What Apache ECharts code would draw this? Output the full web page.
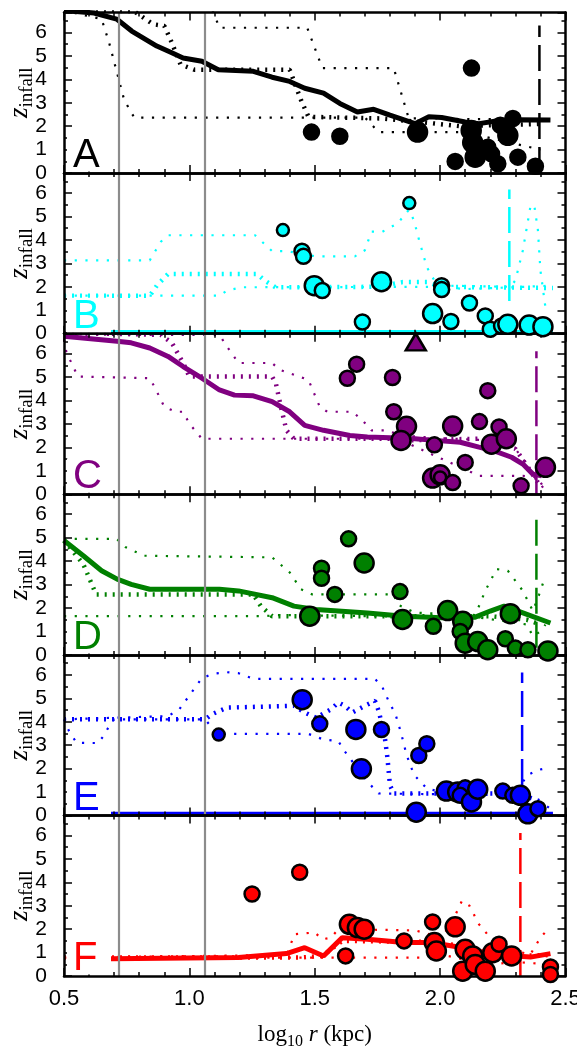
<!DOCTYPE html>
<html><head><meta charset="utf-8">
<script src="https://cdn.jsdelivr.net/npm/echarts@6/dist/echarts.min.js"></script>
<style>html,body{margin:0;padding:0;background:#fff}#c{width:577px;height:1047px}</style>
</head><body><div id="c"></div>
<script>
// ---------- DATA ----------
const panelNames = ['A','B','C','D','E','F'];
const xTicks = [0.5,1.0,1.5,2.0,2.5];
const greyLines = [0.716, 1.056];

const A_median = [[0.5,6.93],[0.62,6.83],[0.71,6.57],[0.77,6.06],[0.87,5.42],[0.93,5.13],[0.975,4.91],[1.05,4.77],[1.115,4.41],[1.255,4.34],[1.33,4.09],[1.40,3.91],[1.46,3.62],[1.535,3.41],[1.60,2.97],[1.67,2.61],[1.735,2.72],[1.80,2.47],[1.90,2.11],[1.955,2.40],[2.006,2.37],[2.10,2.18],[2.155,2.11],[2.23,2.23],[2.30,2.28],[2.44,2.26]];
const A_upper = [[0.5,7.0],[1.09,7.0],[1.12,6.2],[1.47,6.2],[1.53,4.48],[1.815,4.48],[1.875,2.33],[1.95,2.35],[2.1,2.3],[2.25,2.3],[2.4,2.3]];
const A_mean = [[0.5,7.0],[0.78,6.9],[0.855,6.35],[0.90,6.28],[0.93,5.56],[0.965,4.63],[1.02,4.41],[1.40,4.41],[1.415,3.98],[1.445,3.12],[1.475,2.40],[1.77,2.33],[1.90,2.2],[2.08,2.0],[2.4,2.1]];
const A_lower = [[0.5,6.93],[0.65,6.57],[0.68,5.56],[0.71,4.34],[0.74,3.12],[0.78,2.37],[1.70,2.37],[1.755,1.75],[2.09,1.75],[2.2,1.5],[2.4,1.0]];
const A_points = [[1.487,1.75,1],[1.60,1.57,1],[1.91,1.75,2],[2.125,4.48,1],[2.06,0.5,1],[2.124,1.82,2],[2.13,1.3,2],[2.14,0.68,2],[2.19,1.1,1],[2.205,0.82,1],[2.23,0.4,1],[2.24,2.04,1],[2.27,1.61,2],[2.29,2.33,1],[2.31,0.68,1],[2.38,0.29,1]];
const A_vline = [2.396, 0, 6.3];

const B_median = [[0.687,0.05],[2.45,0.05]];
const B_upper = [[0.5,3.13],[0.842,3.13],[0.886,3.92],[0.915,4.2],[1.262,4.2],[1.29,3.92],[1.33,3.52],[1.39,3.52],[1.505,3.30],[1.66,3.30],[1.70,3.56],[1.726,4.35],[1.77,4.35],[1.83,4.7],[1.875,5.28],[1.895,4.85],[1.918,3.92],[1.947,2.84],[1.977,2.27],[2.02,2.05],[2.28,2.0],[2.30,2.27],[2.33,3.56],[2.36,5.42],[2.375,5.5],[2.39,4.42],[2.40,2.7],[2.42,1.12]];
const B_mean = [[0.5,1.62],[0.842,1.62],[0.87,2.05],[0.915,2.55],[1.27,2.55],[1.30,2.27],[1.343,1.98],[1.75,2.0],[1.85,2.2],[1.95,2.2],[2.0,2.0],[2.45,1.95]];
const B_lower = [[0.5,1.62],[1.12,1.62],[1.15,1.84],[1.21,1.98],[2.0,2.0],[2.1,1.9],[2.45,2.05]];
const B_points = [[1.373,4.42,0],[1.449,3.52,1],[1.455,3.30,1],[1.498,2.05,2],[1.53,1.84,1],[1.69,0.50,1],[1.766,2.22,2],[1.877,5.57,0],[1.97,0.86,2],[2.006,2.05,1],[2.006,1.88,1],[2.043,0.52,1],[2.117,1.31,1],[2.18,0.76,1],[2.20,0.19,1],[2.245,0.33,1],[2.27,0.40,2],[2.355,0.37,2],[2.41,0.30,2]];
const B_vline = [2.276, 1.4, 6.15];

const C_median = [[0.5,6.74],[0.712,6.53],[0.768,6.46],[0.842,6.24],[0.915,5.88],[0.975,5.45],[1.05,4.95],[1.12,4.45],[1.18,4.23],[1.255,4.2],[1.33,3.95],[1.40,3.52],[1.46,2.94],[1.535,2.73],[1.64,2.51],[1.71,2.44],[1.80,2.41],[1.90,2.37],[1.977,2.30],[2.08,2.22],[2.155,2.01],[2.21,1.87],[2.285,1.58],[2.33,1.29],[2.37,0.86],[2.405,0.79]];
const C_upper = [[0.5,6.8],[1.12,6.8],[1.145,6.38],[1.196,5.6],[1.33,5.6],[1.36,5.31],[1.475,4.88],[1.52,3.73],[1.55,3.52],[1.65,3.52],[1.69,3.16],[1.726,2.73],[1.785,2.73],[1.85,2.5],[2.0,2.4],[2.2,2.3],[2.30,1.94],[2.345,1.29],[2.375,0.72],[2.405,0.36],[2.43,0.0]];
const C_mean = [[0.5,6.9],[0.886,6.8],[0.93,6.46],[0.975,5.6],[1.0,5.02],[1.33,5.02],[1.345,4.73],[1.365,3.73],[1.387,2.73],[1.417,2.37],[1.80,2.37],[1.855,2.30],[2.15,2.37],[2.30,1.94],[2.36,1.0],[2.39,0.5]];
const C_lower = [[0.5,6.6],[0.51,6.03],[0.53,5.6],[0.555,5.02],[0.842,4.95],[0.864,4.52],[0.90,3.73],[0.945,3.52],[0.975,3.52],[1.0,3.01],[1.05,2.37],[1.80,2.37],[1.815,2.73],[1.84,2.5],[1.89,2.08],[2.155,0.79],[2.33,0.79],[2.39,0.72],[2.42,0.14]];
const C_points = [[1.63,4.95,1],[1.667,5.55,1],[1.81,4.98,1],[1.815,3.52,1],[1.866,2.90,2],[1.844,2.30,2],[1.977,2.11,1],[1.97,0.69,2],[2.0,0.83,2],[2.0,0.72,0],[2.05,0.50,1],[2.05,2.91,2],[2.10,1.36,1],[2.157,3.10,1],[2.19,4.42,1],[2.235,2.87,1],[2.205,2.14,2],[2.264,2.37,2],[2.323,0.36,1],[2.42,1.15,2]];
const C_triangle = [[1.903,6.5]];
const C_vline = [2.384, 0, 6.1];

const D_median = [[0.5,4.88],[0.577,4.23],[0.65,3.59],[0.712,3.23],[0.768,3.01],[0.842,2.80],[1.12,2.80],[1.196,2.73],[1.33,2.44],[1.417,2.08],[1.505,1.94],[1.71,1.79],[1.855,1.65],[2.006,1.58],[2.14,1.61],[2.20,1.87],[2.255,2.08],[2.33,1.79],[2.44,1.36]];
const D_upper = [[0.5,4.95],[0.71,4.95],[0.746,4.59],[0.82,4.23],[1.33,4.16],[1.40,3.52],[1.445,2.80],[1.49,2.58],[1.815,2.58],[1.83,2.15],[1.9,1.8],[2.14,1.7],[2.18,2.73],[2.225,3.66],[2.27,3.59],[2.33,2.73],[2.37,1.87],[2.395,2.58],[2.42,3.37]];
const D_mean = [[0.5,4.88],[0.577,3.87],[0.628,2.58],[1.255,2.58],[1.285,2.08],[1.33,1.65],[2.2,1.65],[2.345,1.5],[2.40,1.3]];
const D_lower = [[0.5,1.65],[1.30,1.65],[1.35,1.7],[2.15,1.6],[2.345,1.3],[2.37,0.8],[2.40,1.0],[2.42,1.29]];
const D_points = [[1.48,1.65,2],[1.527,3.70,1],[1.527,3.27,1],[1.58,2.58,1],[1.635,4.95,1],[1.697,3.92,2],[1.84,2.70,1],[1.85,1.51,2],[1.973,1.22,1],[2.03,1.89,2],[2.09,1.43,2],[2.08,1.0,1],[2.10,0.5,2],[2.15,0.57,2],[2.19,0.22,2],[2.26,0.69,1],[2.28,1.76,2],[2.30,0.29,1],[2.35,0.22,1],[2.43,0.17,2]];
const D_vline = [2.384, 0.3, 6.1];

const E_median = [[0.687,0.05],[2.45,0.05]];
const E_upper = [[0.5,4.1],[0.915,4.24],[0.96,4.53],[1.004,5.18],[1.048,5.83],[1.09,6.04],[1.15,6.11],[1.196,6.07],[1.255,5.83],[1.74,5.83],[1.77,5.47],[1.80,4.75],[1.82,4.39],[1.844,3.53],[1.866,2.59],[1.896,1.73],[1.947,1.15],[2.006,1.0],[2.30,1.0],[2.35,1.73],[2.39,1.94],[2.42,2.01]];
const E_mean = [[0.5,4.1],[1.063,4.1],[1.09,4.32],[1.15,4.6],[1.417,4.68],[1.46,4.39],[1.505,4.17],[1.565,4.53],[1.594,4.82],[1.62,4.68],[1.65,4.39],[1.70,4.68],[1.74,4.89],[1.755,4.46],[1.778,3.45],[1.79,2.45],[1.80,1.29],[1.815,0.94],[2.30,0.94],[2.36,0.75],[2.405,0.58]];
const E_lower = [[0.5,4.1],[0.52,3.6],[0.55,3.1],[0.635,3.09],[0.657,3.38],[0.68,3.81],[0.70,4.1],[1.063,4.1],[1.085,3.81],[1.115,3.48],[1.475,3.48],[1.535,3.24],[1.594,3.17],[1.62,2.73],[1.66,2.16],[1.71,1.44],[1.755,0.94],[2.33,0.86],[2.37,0.65],[2.42,0.43],[2.44,0.29]];
const E_points = [[1.117,3.45,0],[1.45,4.94,2],[1.52,3.91,1],[1.664,3.67,2],[1.686,1.99,2],[1.766,3.67,1],[1.915,2.56,1],[1.947,3.06,1],[1.905,0.14,2],[2.025,1.04,2],[2.07,1.0,2],[2.10,1.18,1],[2.08,0.86,1],[2.125,0.58,2],[2.15,1.12,2],[2.25,1.04,1],[2.29,0.86,1],[2.32,0.86,2],[2.35,0.07,2],[2.39,0.29,1]];
const E_vline = [2.327, 1.3, 6.1];

const F_median = [[0.687,0.74],[1.196,0.79],[1.387,0.96],[1.46,1.21],[1.535,0.86],[1.61,1.64],[1.71,1.57],[1.855,1.43],[1.93,1.43],[2.006,1.36],[2.09,1.21],[2.18,1.0],[2.30,0.86],[2.36,0.81],[2.44,0.96]];
const F_upper = [[0.5,0.79],[1.387,0.9],[1.42,1.79],[1.50,1.86],[1.53,1.57],[1.565,1.64],[1.594,2.0],[1.90,1.95],[2.006,1.64],[2.05,2.36],[2.087,3.21],[2.117,3.0],[2.155,2.21],[2.20,1.64],[2.30,1.07],[2.36,0.93],[2.40,1.64],[2.43,2.0]];
const F_mean = [[0.5,0.79],[1.44,0.79],[1.53,0.86],[1.61,1.5],[2.0,1.45],[2.2,1.0],[2.3,0.86],[2.44,0.9]];
const F_lower = [[0.5,0.79],[1.61,0.79],[1.93,0.79],[2.0,0.93],[2.1,0.7],[2.2,0.5],[2.3,0.6],[2.44,0.5]];
const F_points = [[1.25,3.5,1],[1.44,4.43,1],[1.623,0.86,1],[1.638,2.21,2],[1.67,2.07,2],[1.697,2.0,2],[1.856,1.5,1],[1.97,2.31,1],[1.977,1.43,2],[1.985,1.07,2],[2.06,2.1,2],[2.10,1.14,2],[2.09,0.21,2],[2.13,0.86,2],[2.14,0.5,2],[2.18,0.21,2],[2.21,1.0,2],[2.235,1.36,1],[2.285,0.86,2],[2.44,0.39,1],[2.44,0.07,1]];
const F_vline = [2.32, 0, 6.1];

// ---------- BUILD ----------
const panels = [
  {name:'A', color:'#000000', median:A_median, upper:A_upper, mean:A_mean, lower:A_lower, pts:A_points, vline:A_vline},
  {name:'B', color:'#00FFFF', median:B_median, upper:B_upper, mean:B_mean, lower:B_lower, pts:B_points, vline:B_vline},
  {name:'C', color:'#800080', median:C_median, upper:C_upper, mean:C_mean, lower:C_lower, pts:C_points, vline:C_vline, tri:C_triangle},
  {name:'D', color:'#008000', median:D_median, upper:D_upper, mean:D_mean, lower:D_lower, pts:D_points, vline:D_vline},
  {name:'E', color:'#0000FF', median:E_median, upper:E_upper, mean:E_mean, lower:E_lower, pts:E_points, vline:E_vline},
  {name:'F', color:'#FF0000', median:F_median, upper:F_upper, mean:F_mean, lower:F_lower, pts:F_points, vline:F_vline}
];
const YMAX = 6.85, TOP0 = 12.5, PH = 160.6, LEFT = 64, W = 501.5;
const symSizes = [12, 15, 19];
const grids = [], xAxes = [], yAxes = [], series = [], graphics = [];
const sans = '"Liberation Sans", Arial, sans-serif';
const serif = '"Liberation Serif", "DejaVu Serif", serif';

panels.forEach((p, i) => {
  const top = TOP0 + i * PH;
  grids.push({left: LEFT, top: top, width: W, height: PH, show: false, containLabel:false, outerBoundsMode:'none'});
  const last = i === panels.length - 1;
  const xBase = {type:'value', gridIndex:i, min:0.5, max:2.5, interval:0.5, z:5,
    axisLine:{show:true, onZero:false, lineStyle:{color:'#000', width:2.5}},
    axisTick:{show:true, inside:true, length:8, lineStyle:{color:'#000', width:1.5}},
    minorTick:{show:true, splitNumber:5, length:4, lineStyle:{color:'#000', width:1.5}},
    splitLine:{show:false}, minorSplitLine:{show:false}};
  xAxes.push(Object.assign({}, xBase, {position:'bottom',
    axisLabel:{show:last, color:'#000', fontSize:22, fontFamily:sans, margin:12, formatter: v => xTicks.includes(v) ? v.toFixed(1) : ''},
    name: last ? '{n|log}{sub|10}{n| }{i|r}{n| (kpc)}' : '', nameLocation:'middle', nameGap:44,
    nameTextStyle:{rich:{n:{fontSize:23, fontFamily:serif, color:'#000', lineHeight:30, verticalAlign:'middle'},
      sub:{fontSize:16, fontFamily:serif, color:'#000', lineHeight:30, verticalAlign:'bottom'},
      i:{fontSize:23, fontFamily:serif, fontStyle:'italic', color:'#000', lineHeight:30, verticalAlign:'middle'}}}}));
  xAxes.push(Object.assign({}, xBase, {position:'top', axisLabel:{show:false}}));
  const yBase = {type:'value', gridIndex:i, min:0, max:YMAX, interval:1, z:5,
    axisLine:{show:true, onZero:false, lineStyle:{color:'#000', width:2.5}},
    axisTick:{show:true, inside:true, length:8, lineStyle:{color:'#000', width:1.5}},
    minorTick:{show:true, splitNumber:2, length:4, lineStyle:{color:'#000', width:1.5}},
    splitLine:{show:false}, minorSplitLine:{show:false}};
  yAxes.push(Object.assign({}, yBase, {position:'left',
    axisLabel:{color:'#000', fontSize:21, fontFamily:sans, margin:17, showMaxLabel:false, formatter: v => Number.isInteger(v) ? String(v) : ''},
    name:'{z|z}{s|infall}', nameLocation:'middle', nameRotate:90, nameGap:27, nameMoveOverlap:false,
    nameTextStyle:{rich:{z:{fontSize:27, fontFamily:serif, fontStyle:'italic', color:'#000', lineHeight:34, verticalAlign:'middle'},
      s:{fontSize:19, fontFamily:serif, color:'#000', lineHeight:34, verticalAlign:'bottom'}}}}));
  yAxes.push(Object.assign({}, yBase, {position:'right', axisLabel:{show:false}}));

  const xi = 2*i, yi = 2*i;
  const common = {xAxisIndex:xi, yAxisIndex:yi, silent:true, animation:false};
  series.push(Object.assign({type:'line', data:[], symbol:'none', z:1,
    markLine:{silent:true, symbol:'none', label:{show:false}, animation:false,
      lineStyle:{color:'#8c8c8c', type:'solid', width:2.2},
      data: greyLines.map(g => ({xAxis:g}))}}, common));
  const lineS = (data, width, type, z) => Object.assign({type:'line', data:data, symbol:'none', z:z,
    lineStyle:{color:p.color, width:width, type:type, cap:'butt'}}, common);
  series.push(lineS(p.upper, 2.2, [2.2, 8.5], 3));
  series.push(lineS(p.lower, 2.2, [2.2, 8.5], 3));
  series.push(lineS(p.mean, 4.5, [2, 6], 3));
  series.push(lineS(p.median, 5, 'solid', 4));
  series.push(Object.assign({type:'line', symbol:'none', z:4,
    data:[[p.vline[0], p.vline[1]], [p.vline[0], p.vline[2]]],
    lineStyle:{color:p.color, width:2.5, type:[26, 8]}}, common));
  series.push(Object.assign({type:'scatter', z:6, data:p.pts,
    symbolSize: v => symSizes[v[2]],
    itemStyle:{color:p.color, borderColor:'#000', borderWidth:2.5, opacity:1}}, common));
  if (p.tri) {
    series.push(Object.assign({type:'scatter', z:7, data:p.tri, symbol:'triangle', symbolSize:[20,17], clip:false,
      itemStyle:{color:p.color, borderColor:'#000', borderWidth:2.5, opacity:1}}, common));
  }
  const bottom = top + PH;
  graphics.push({type:'rect', z:100, shape:{x:67, y:bottom-36, width:44, height:34.5}, style:{fill:'#fff'}, silent:true});
  graphics.push({type:'text', z:101, x:73, y:bottom+3, style:{text:p.name, fill:p.color, fontSize:40, fontFamily:sans, verticalAlign:'bottom'}, silent:true});
});

const chart = echarts.init(document.getElementById('c'), null, {renderer:'canvas'});
chart.setOption({animation:false, backgroundColor:'#fff', grid:grids, xAxis:xAxes, yAxis:yAxes, series:series, graphic:graphics});
</script></body></html>
